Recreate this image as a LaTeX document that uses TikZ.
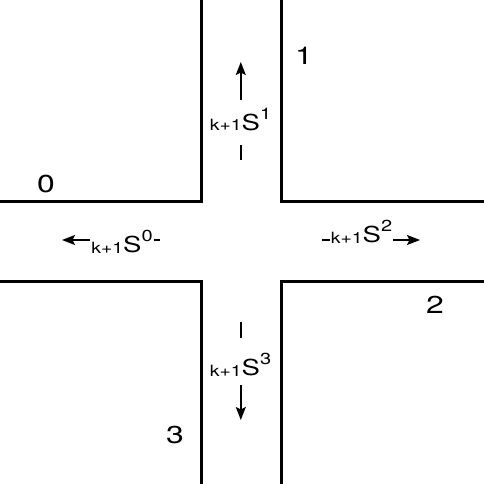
\documentclass[tikz,border=0pt]{standalone}
\usepackage{fontspec}
\setmainfont{TeX Gyre Heros}
\usetikzlibrary{arrows.meta}

% stretched label: k+1 S^n
\newcommand{\flowlabel}[1]{\scalebox{1.25}[1]{\raisebox{-1pt}{\fontsize{15.5}{15.5}\selectfont k+1}\fontsize{22}{22}\selectfont S\raisebox{10.5pt}{\fontsize{16}{16}\selectfont #1}}}
\newcommand{\armnum}[1]{\scalebox{1.3}[1]{\fontsize{24.5}{24.5}\selectfont #1}}

\begin{document}
\begin{tikzpicture}[x=1pt, y=-1pt,
  wall/.style={line width=3pt},
  flow/.style={line width=1.6pt, -{Stealth[length=13pt, width=10pt, inset=2.5pt]}},
  flowtext/.style={fill=white, inner xsep=1pt, inner ysep=0pt, anchor=base},
  armlabel/.style={inner sep=0pt}
]
\useasboundingbox (0,0) rectangle (484,484);

% walls of the crossing
\draw[wall] (201.3,0) -- (201.3,201.3) -- (0,201.3);
\draw[wall] (281.5,0) -- (281.5,201.3) -- (484,201.3);
\draw[wall] (0,281.5) -- (201.3,281.5) -- (201.3,484);
\draw[wall] (484,281.5) -- (281.5,281.5) -- (281.5,484);

% arrow ends
\coordinate (up0) at (240.8,160);
\coordinate (up1) at (240.8,62);
\coordinate (left0) at (160,240);
\coordinate (left1) at (62,240);
\coordinate (right0) at (322,240);
\coordinate (right1) at (420,240);
\coordinate (down0) at (240.8,322);
\coordinate (down1) at (240.8,420);

\draw[flow] (up0) -- (up1);
\draw[flow] (left0) -- (left1);
\draw[flow] (right0) -- (right1);
\draw[flow] (down0) -- (down1);

% flow labels
\node[flowtext, text height=30pt, text depth=15pt] (s1) at (240.5,130) {\flowlabel{1}};
\node[flowtext] (s0) at (122,252) {\flowlabel{0}};
\node[flowtext] (s2) at (361.5,242) {\flowlabel{2}};
\node[flowtext, text height=37pt, text depth=10pt] (s3) at (240.5,375) {\flowlabel{3}};

% arm numbers
\node[armlabel] (arm0) at (46,183.5) {\armnum{0}};
\node[armlabel] (arm1) at (304,56) {\armnum{1}};
\node[armlabel] (arm2) at (435,305) {\armnum{2}};
\node[armlabel] (arm3) at (175,435) {\armnum{3}};
\end{tikzpicture}
\end{document}
